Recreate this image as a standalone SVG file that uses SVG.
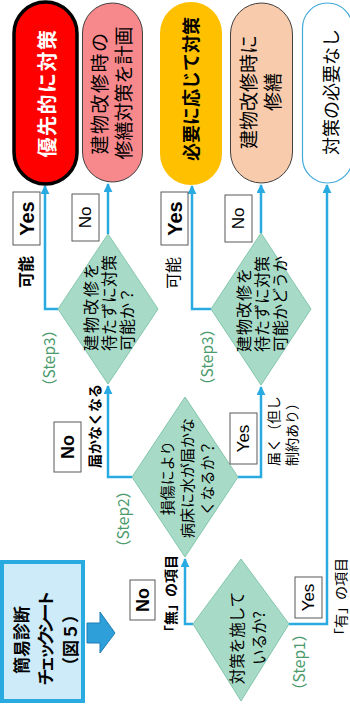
<svg xmlns="http://www.w3.org/2000/svg" width="350" height="708" viewBox="0 0 350 708">
<defs>
<marker id="ah" viewBox="0 0 10 10" refX="9" refY="5" markerWidth="9" markerHeight="9" markerUnits="userSpaceOnUse" orient="auto"><path d="M0,0 L10,5 L0,10 z" fill="#29ABE2"/></marker>
<style>
.jp{font-family:"Noto Sans CJK JP","Noto Sans CJK SC",sans-serif;}
.en{font-family:"Liberation Sans",Arial,sans-serif;}
.c{text-anchor:middle;dominant-baseline:central;}
.s{text-anchor:start;dominant-baseline:central;}
.b{font-weight:bold;}
.dia{fill:#A8DBC7;stroke:#82C6AC;stroke-width:1;}
.lbl{fill:#fff;stroke:#595959;stroke-width:1;}
.conn{fill:none;stroke:#29ABE2;stroke-width:2.5;marker-end:url(#ah);}
.step{fill:#4A9A6C;font-size:15.5px;}
</style>
</defs>
<rect width="350" height="708" fill="#fff"/>

<g id="connectors">
<path class="conn" d="M58,309 H45 V186"/>
<path class="conn" d="M108,234 V184"/>
<path class="conn" d="M211,309 H192 V186"/>
<path class="conn" d="M261,233 V185"/>
<path class="conn" d="M132,477 H108 V386"/>
<path class="conn" d="M238,477 H261 V387"/>
<path class="conn" d="M193,624 H185 V559"/>
<path class="conn" d="M289,624 H327 V185"/>
</g>

<g id="n-priority"><rect x="14" y="2" width="63" height="182" rx="31.5" fill="#FF0000" stroke="#000" stroke-width="3.5"/><text class="jp c b" font-size="20" letter-spacing="1.5" fill="#fff" transform="translate(46,93) rotate(-90)">優先的に対策</text></g>
<g id="n-plan"><rect x="82.5" y="3" width="60" height="179" rx="30" fill="#F7888B" stroke="#404040" stroke-width="1"/><text class="jp c" font-size="19" transform="translate(110,93) rotate(-90)"><tspan x="0" y="-12" letter-spacing="1.5">建物改修時の</tspan><tspan x="0" y="12">修繕対策を計画</tspan></text></g>
<g id="n-asneeded"><rect x="160" y="2" width="62" height="183" rx="31" fill="#FFC000"/><text class="jp c b" font-size="18" transform="translate(190,89) rotate(-90)">必要に応じて対策</text></g>
<g id="n-repair"><rect x="230.5" y="3" width="62" height="180" rx="31" fill="#F8CBAD" stroke="#404040" stroke-width="1"/><text class="jp c" font-size="19" transform="translate(259,92) rotate(-90)"><tspan x="0" y="-12">建物改修時に</tspan><tspan x="0" y="12">修繕</tspan></text></g>
<g id="n-none"><rect x="302.5" y="3" width="50" height="180" rx="25" fill="#fff" stroke="#41A9D9" stroke-width="1.2"/><text class="jp c" font-size="18" transform="translate(330,92) rotate(-90)">対策の必要なし</text></g>

<g id="d-step3a"><polygon class="dia" points="108,234 158,309 108,384 58,309"/><text class="jp s" font-size="16" transform="translate(108,351) rotate(-90)"><tspan x="0" y="-18" letter-spacing="2">建物改修を</tspan><tspan x="0" y="0">待たずに対策</tspan><tspan x="0" y="18">可能か？</tspan></text></g>
<g id="d-step3b"><polygon class="dia" points="261,233 311,309 261,385 211,309"/><text class="jp s" font-size="16" transform="translate(261,352) rotate(-90)"><tspan x="0" y="-18" letter-spacing="1">建物改修を</tspan><tspan x="0" y="0">待たずに対策</tspan><tspan x="0" y="18">可能かどうか</tspan></text></g>
<g id="d-step2"><polygon class="dia" points="185,397 238,477 185,557 132,477"/><text class="jp c" font-size="15" transform="translate(186,478) rotate(-90)"><tspan x="0" y="-20">損傷により</tspan><tspan x="0" y="0">病床に水が届かな</tspan><tspan x="0" y="20">くなるか？</tspan></text></g>
<g id="d-step1"><polygon class="dia" points="241,559 289,624 241,701 193,624"/><text class="jp c" font-size="15.5" transform="translate(247,638) rotate(-90)"><tspan x="0" y="-11">対策を施して</tspan><tspan x="0" y="11">いるか?</tspan></text></g>

<g id="n-sheet"><rect x="2" y="562" width="81" height="139" fill="#CDEBF8" stroke="#29ABE2" stroke-width="4"/><text class="jp c b" font-size="17" transform="translate(44,640) rotate(-90)"><tspan x="0" y="-24">簡易診断</tspan><tspan x="0" y="0" letter-spacing="-4">チェックシート</tspan><tspan x="0" y="25">（図５）</tspan></text></g>
<g id="big-arrow"><polygon points="87,623 100,623 100,612 115,633 100,653 100,643 87,643" fill="#2E9FD8" stroke="#1C7DB5" stroke-width="1"/></g>

<g id="labels">
<g><rect class="lbl" x="13" y="192" width="27" height="53"/><text class="en c b" font-size="20" transform="translate(26.5,218.5) rotate(-90)">Yes</text></g>
<g><rect class="lbl" x="72" y="194" width="27" height="47"/><text class="en c" font-size="17" transform="translate(85.5,217.5) rotate(-90)">No</text></g>
<g><rect class="lbl" x="161" y="192" width="27" height="53"/><text class="en c b" font-size="20" transform="translate(174.5,218.5) rotate(-90)">Yes</text></g>
<g><rect class="lbl" x="225" y="195" width="27" height="47"/><text class="en c" font-size="17" transform="translate(238.5,218.5) rotate(-90)">No</text></g>
<g><rect class="lbl" x="54" y="422" width="27" height="50"/><text class="en c b" font-size="18" transform="translate(67.5,447) rotate(-90)">No</text></g>
<g><rect class="lbl" x="230" y="413" width="27" height="51"/><text class="en c" font-size="17" transform="translate(243.5,438.5) rotate(-90)">Yes</text></g>
<g><rect class="lbl" x="130" y="580" width="25" height="40"/><text class="en c b" font-size="18" transform="translate(142.5,600) rotate(-90)">No</text></g>
<g><rect class="lbl" x="295" y="577" width="27" height="41"/><text class="en c" font-size="17" transform="translate(308.5,597.5) rotate(-90)">Yes</text></g>
<text class="jp c b" font-size="16" transform="translate(25,272) rotate(-90)">可能</text>
<text class="jp c" font-size="16" transform="translate(172,273) rotate(-90)">可能</text>
<text class="jp c b" font-size="14" transform="translate(94,426) rotate(-90)">届かなくなる</text>
<text class="jp s" font-size="14" transform="translate(282,466) rotate(-90)"><tspan x="0" y="-9">届く（但し</tspan><tspan x="0" y="9">制約あり）</tspan></text>
<text class="jp c b" font-size="14" transform="translate(170,597) rotate(-90)">「無」の項目</text>
<text class="jp c" font-size="14" transform="translate(340,600) rotate(-90)">「有」の項目</text>
<text class="jp c step" transform="translate(298,662) rotate(-90)">（Step1）</text>
<text class="jp c step" transform="translate(122,519) rotate(-90)">（Step2）</text>
<text class="jp c step" transform="translate(48,358) rotate(-90)">（Step3）</text>
<text class="jp c step" transform="translate(206,357) rotate(-90)">（Step3）</text>
</g>
</svg>
